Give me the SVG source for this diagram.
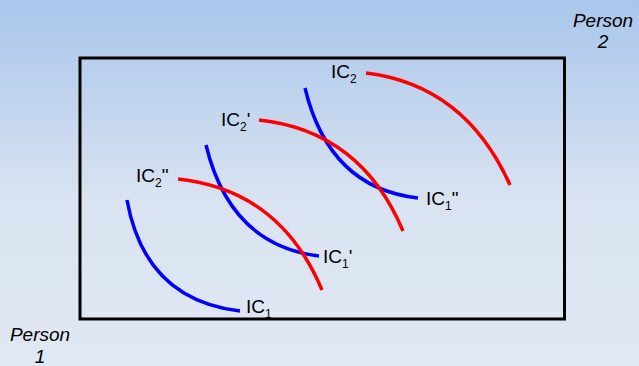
<svg xmlns="http://www.w3.org/2000/svg" width="639" height="366" viewBox="0 0 639 366">
<defs>
<linearGradient id="bg" x1="0" y1="0" x2="0" y2="1">
<stop offset="0" stop-color="#a9c6eb"/>
<stop offset="0.55" stop-color="#d9e3f1"/>
<stop offset="1" stop-color="#e0e8f3"/>
</linearGradient>
<style>
.ic1{fill:none;stroke:#0000ff;stroke-width:3.5}
.ic2{fill:none;stroke:#ff0000;stroke-width:3.5}
.lbl{font-family:"Liberation Sans",Arial,sans-serif;font-size:19px;fill:#000}
.sub{font-size:12px}
.axis{font-family:"Liberation Sans",Arial,sans-serif;font-size:19px;font-style:italic;fill:#000;text-anchor:middle}
</style>
</defs>
<rect width="639" height="366" fill="url(#bg)"/>
<g id="box"><rect x="80" y="58" width="484.5" height="261" fill="none" stroke="#000" stroke-width="3"/></g>
<g id="connectors">
<path id="IC1" class="ic1" d="M127,200 Q145,300 240,311"/>
<path id="IC1p" class="ic1" d="M206,145 Q230,245 319,256"/>
<path id="IC1pp" class="ic1" d="M305,88 Q329,188 418,198"/>
<path id="IC2pp" class="ic2" d="M178,179 Q280,190 322,290"/>
<path id="IC2p" class="ic2" d="M259,120 Q361,131 403,231"/>
<path id="IC2" class="ic2" d="M366,73 Q465,85 510,185"/>
</g>
<g id="labels">
<text class="lbl" x="331" y="78">IC<tspan class="sub" dy="5">2</tspan></text>
<text class="lbl" x="221" y="126">IC<tspan class="sub" dy="5">2</tspan><tspan dy="-5">'</tspan></text>
<text class="lbl" x="136" y="182">IC<tspan class="sub" dy="5">2</tspan><tspan dy="-5">"</tspan></text>
<text class="lbl" x="426" y="205">IC<tspan class="sub" dy="5">1</tspan><tspan dy="-5">"</tspan></text>
<text class="lbl" x="323" y="263">IC<tspan class="sub" dy="5">1</tspan><tspan dy="-5">'</tspan></text>
<text class="lbl" x="246" y="313">IC<tspan class="sub" dy="5">1</tspan></text>
</g>
<g id="person2"><text class="axis" x="603" y="27">Person</text><text class="axis" x="603" y="48">2</text></g>
<g id="person1"><text class="axis" x="40" y="341">Person</text><text class="axis" x="40" y="363">1</text></g>
</svg>
